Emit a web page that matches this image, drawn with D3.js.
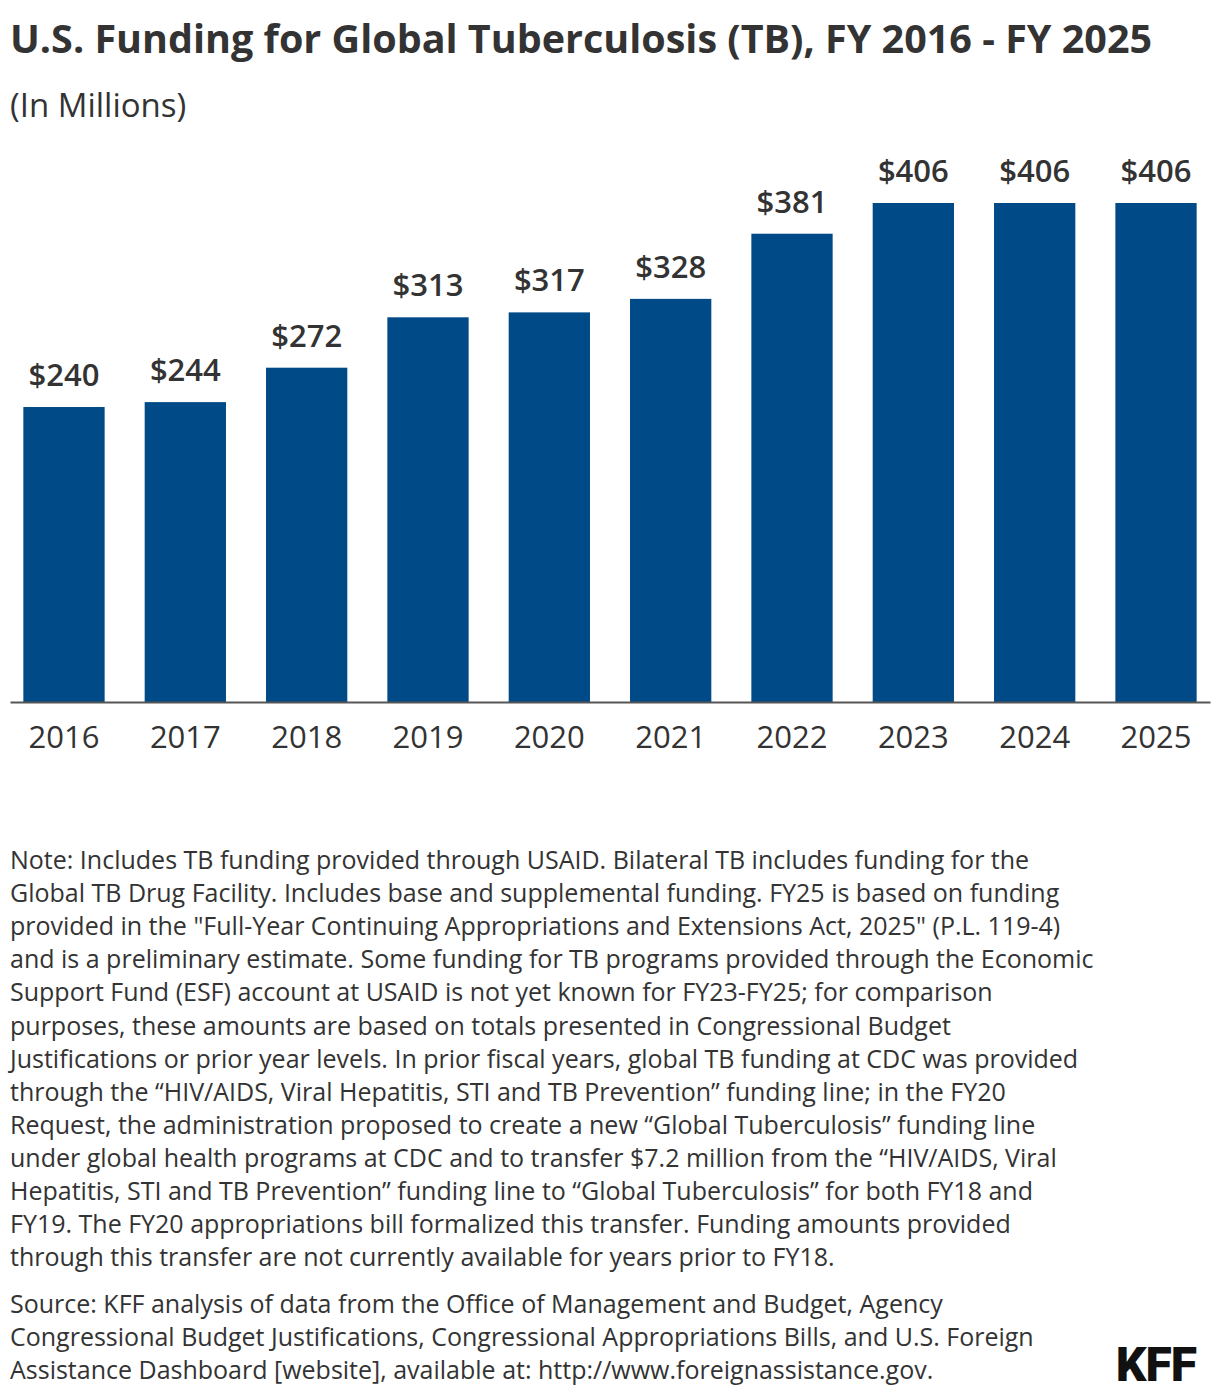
<!DOCTYPE html>
<html lang="en">
<head>
<meta charset="UTF-8">
<title>U.S. Funding for Global Tuberculosis (TB), FY 2016 - FY 2025</title>
<script src="https://d3js.org/d3.v7.min.js"></script>
<style>
  body { margin: 0; background: #fff; }
  svg text { font-family: "Open Sans", "Noto Sans", sans-serif; fill: #333; }
</style>
</head>
<body>
<svg id="chart"></svg>
<script>
// chart data
const years = ["2016", "2017", "2018", "2019", "2020", "2021", "2022", "2023", "2024", "2025"];
const funding = [240, 244, 272, 313, 317, 328, 381, 406, 406, 406];

const title = "U.S. Funding for Global Tuberculosis (TB), FY 2016 - FY 2025";
const subtitle = "(In Millions)";
const noteLines = [
  "Note: Includes TB funding provided through USAID. Bilateral TB includes funding for the",
  "Global TB Drug Facility. Includes base and supplemental funding. FY25 is based on funding",
  "provided in the \"Full-Year Continuing Appropriations and Extensions Act, 2025\" (P.L. 119-4)",
  "and is a preliminary estimate. Some funding for TB programs provided through the Economic",
  "Support Fund (ESF) account at USAID is not yet known for FY23-FY25; for comparison",
  "purposes, these amounts are based on totals presented in Congressional Budget",
  "Justifications or prior year levels. In prior fiscal years, global TB funding at CDC was provided",
  "through the \u201cHIV/AIDS, Viral Hepatitis, STI and TB Prevention\u201d funding line; in the FY20",
  "Request, the administration proposed to create a new \u201cGlobal Tuberculosis\u201d funding line",
  "under global health programs at CDC and to transfer $7.2 million from the \u201cHIV/AIDS, Viral",
  "Hepatitis, STI and TB Prevention\u201d funding line to \u201cGlobal Tuberculosis\u201d for both FY18 and",
  "FY19. The FY20 appropriations bill formalized this transfer. Funding amounts provided",
  "through this transfer are not currently available for years prior to FY18."
];
const sourceLines = [
  "Source: KFF analysis of data from the Office of Management and Budget, Agency",
  "Congressional Budget Justifications, Congressional Appropriations Bills, and U.S. Foreign",
  "Assistance Dashboard [website], available at: http://www.foreignassistance.gov."
];

const width = 1220;
const height = 1398;

const svg = d3.select("#chart")
  .attr("width", width)
  .attr("height", height);

// title block
svg.append("text")
  .attr("x", 10).attr("y", 53)
  .style("font-size", "39.5px").style("font-weight", 700)
  .text(title);

svg.append("text")
  .attr("x", 10).attr("y", 117)
  .style("font-size", "33px")
  .text(subtitle);

// scales
const x = d3.scaleBand()
  .domain(years)
  .range([10, 1210])
  .paddingInner(0.33)
  .paddingOuter(0.11);

const y = d3.scaleLinear()
  .domain([0, 406])
  .range([702, 203]);

// bars
svg.selectAll("rect.bar")
  .data(funding)
  .enter().append("rect")
  .attr("class", "bar")
  .attr("x", (d, i) => x(years[i]))
  .attr("y", d => y(d))
  .attr("width", x.bandwidth())
  .attr("height", d => y(0) - y(d))
  .attr("fill", "#004a87");

// value labels
svg.selectAll("text.value")
  .data(funding)
  .enter().append("text")
  .attr("class", "value")
  .attr("x", (d, i) => x(years[i]) + x.bandwidth() / 2)
  .attr("y", d => y(d) - 21)
  .attr("text-anchor", "middle")
  .style("font-size", "31px").style("font-weight", 600)
  .text(d => "$" + d);

// x axis
const xAxis = svg.append("g")
  .attr("transform", `translate(0,${y(0)})`)
  .call(d3.axisBottom(x).tickSize(0).tickPadding(24).tickSizeOuter(0));

xAxis.select(".domain")
  .attr("stroke", "#555")
  .attr("stroke-width", 2);

xAxis.selectAll(".tick text")
  .attr("dy", "0.71em")
  .style("font-size", "31px")
  .style("fill", "#333");

// notes
const notes = svg.append("text")
  .style("font-size", "25px");
noteLines.forEach((t, i) => {
  notes.append("tspan").attr("x", 10).attr("y", 869 + i * 33.1).text(t);
});

const source = svg.append("text")
  .style("font-size", "25px");
sourceLines.forEach((t, i) => {
  source.append("tspan").attr("x", 10).attr("y", 1313 + i * 33.1).text(t);
});

// logo
svg.append("text")
  .attr("x", 1196).attr("y", 1381)
  .attr("text-anchor", "end")
  .style("font-family", "Roboto, Lato, sans-serif")
  .style("font-size", "48px").style("font-weight", 900)
  .style("fill", "#111")
  .style("letter-spacing", "-1px")
  .text("KFF");
</script>
</body>
</html>
